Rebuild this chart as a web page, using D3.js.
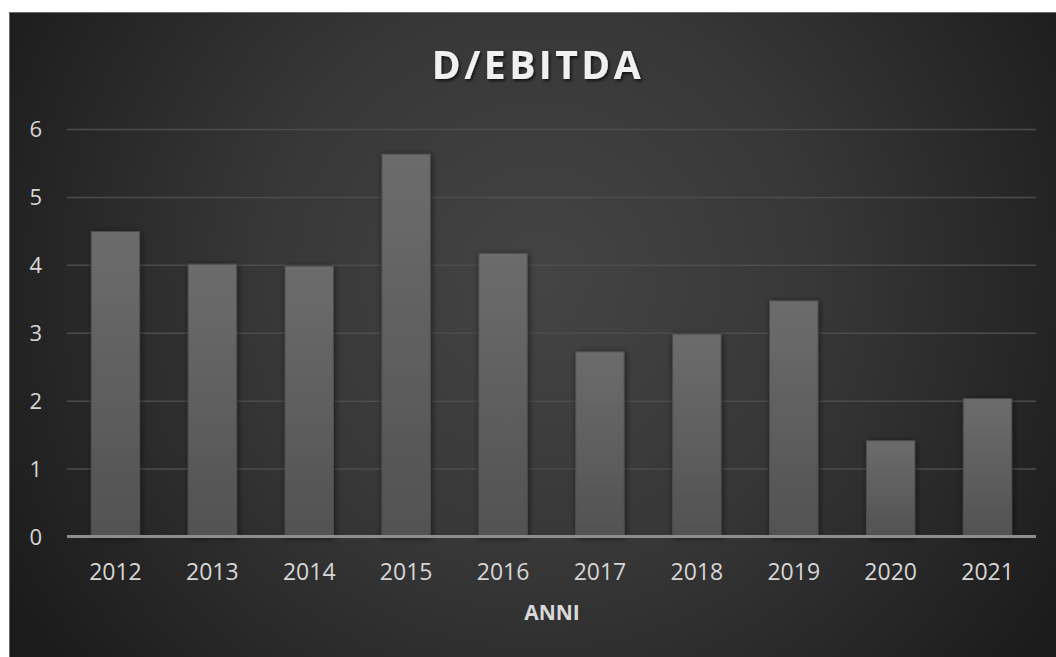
<!DOCTYPE html>
<html>
<head>
<meta charset="utf-8">
<script src="https://cdn.jsdelivr.net/npm/d3@7"></script>
<style>
  html, body { margin: 0; padding: 0; background: #ffffff; }
  svg { display: block; }
</style>
</head>
<body>
<div id="chart"></div>
<script>
// D/EBITDA ratio per year
const years = ["2012", "2013", "2014", "2015", "2016", "2017", "2018", "2019", "2020", "2021"];
const ratios = [4.49, 4.01, 3.98, 5.63, 4.17, 2.72, 2.98, 3.47, 1.41, 2.03];
const yTicks = [0, 1, 2, 3, 4, 5, 6];
const chartTitle = "D/EBITDA";
const xTitle = "ANNI";

const W = 1056, H = 657;
const frame = { x: 9, y: 12, w: W - 9, h: H - 12 };
const plot = { left: 67, right: 1036, top: 129, bottom: 536.5 };

const svg = d3.select("#chart").append("svg")
  .attr("width", W).attr("height", H);

const defs = svg.append("defs");

// Background: soft radial glow, dark toward the edges
const bg = defs.append("radialGradient").attr("id", "bgGrad")
  .attr("gradientUnits", "userSpaceOnUse")
  .attr("cx", 540).attr("cy", 280).attr("r", 620)
  .attr("fx", 540).attr("fy", 280);
bg.append("stop").attr("offset", "0%").attr("stop-color", "#444444");
bg.append("stop").attr("offset", "45%").attr("stop-color", "#373737");
bg.append("stop").attr("offset", "100%").attr("stop-color", "#1b1b1b");

// Bar fill: lighter at the top
const barGrad = defs.append("linearGradient").attr("id", "barGrad")
  .attr("x1", 0).attr("y1", 0).attr("x2", 0).attr("y2", 1);
barGrad.append("stop").attr("offset", "0%").attr("stop-color", "#6c6c6c");
barGrad.append("stop").attr("offset", "100%").attr("stop-color", "#525252");

const shadow = defs.append("filter").attr("id", "barShadow")
  .attr("x", "-30%").attr("y", "-10%").attr("width", "160%").attr("height", "120%");
shadow.append("feDropShadow").attr("dx", 1).attr("dy", 1)
  .attr("stdDeviation", 3).attr("flood-color", "#000").attr("flood-opacity", 0.55);

const textShadow = defs.append("filter").attr("id", "textShadow")
  .attr("x", "-10%").attr("y", "-30%").attr("width", "120%").attr("height", "160%");
textShadow.append("feDropShadow").attr("dx", 1.5).attr("dy", 2)
  .attr("stdDeviation", 1.5).attr("flood-color", "#000").attr("flood-opacity", 0.7);

// Chart area frame
svg.append("rect")
  .attr("x", frame.x).attr("y", frame.y)
  .attr("width", frame.w).attr("height", frame.h)
  .attr("fill", "url(#bgGrad)");
svg.append("line")
  .attr("x1", frame.x + 0.5).attr("x2", frame.x + 0.5)
  .attr("y1", frame.y).attr("y2", H)
  .attr("stroke", "#6a6a6a").attr("stroke-width", 1);
svg.append("line")
  .attr("x1", frame.x).attr("x2", W)
  .attr("y1", frame.y + 0.5).attr("y2", frame.y + 0.5)
  .attr("stroke", "#6a6a6a").attr("stroke-width", 1);

const x = d3.scaleBand()
  .domain(years)
  .range([plot.left, plot.right])
  .paddingInner(0.5)
  .paddingOuter(0.25);

const y = d3.scaleLinear()
  .domain([0, 6])
  .range([plot.bottom, plot.top]);

// Horizontal gridlines
const yAxis = d3.axisLeft(y)
  .tickValues(yTicks)
  .tickSize(-(plot.right - plot.left))
  .tickPadding(25)
  .tickFormat(d3.format("d"));

const gy = svg.append("g")
  .attr("transform", `translate(${plot.left},0)`)
  .call(yAxis);
gy.select(".domain").remove();
gy.selectAll(".tick line")
  .attr("stroke", "#4c4c4c")
  .attr("stroke-width", 1.5)
  .attr("opacity", d => d === 0 ? 0 : 1);
gy.selectAll(".tick text")
  .attr("fill", "#d6d6d6")
  .attr("font-family", "'Open Sans', sans-serif")
  .attr("font-size", 22)
  .attr("dy", "0.36em");

// Bars
svg.append("g").selectAll("rect")
  .data(years.map((yr, i) => ({ yr, v: ratios[i] })))
  .join("rect")
  .attr("x", d => x(d.yr))
  .attr("y", d => y(d.v))
  .attr("width", x.bandwidth())
  .attr("height", d => y(0) - y(d.v))
  .attr("fill", "url(#barGrad)")
  .attr("stroke", "#4e4e4e")
  .attr("stroke-width", 1)
  .attr("filter", "url(#barShadow)");

// Category axis
const xAxis = d3.axisBottom(x).tickSize(0).tickPadding(43);
const gx = svg.append("g")
  .attr("transform", `translate(0,${plot.bottom})`)
  .call(xAxis);
gx.select(".domain")
  .attr("stroke", "#8e8e8e")
  .attr("stroke-width", 3)
  .attr("d", `M${plot.left},0H${plot.right}`);
gx.selectAll(".tick text")
  .attr("fill", "#d6d6d6")
  .attr("font-family", "'Open Sans', sans-serif")
  .attr("font-size", 23)
  .attr("dy", "0");

// Titles
svg.append("text")
  .attr("x", 538).attr("y", 79)
  .attr("text-anchor", "middle")
  .attr("fill", "#f0f0f0")
  .attr("font-family", "'Open Sans', sans-serif")
  .attr("font-weight", "bold")
  .attr("font-size", 39)
  .attr("letter-spacing", 3.5)
  .attr("filter", "url(#textShadow)")
  .text(chartTitle);

svg.append("text")
  .attr("x", 552).attr("y", 620)
  .attr("text-anchor", "middle")
  .attr("fill", "#d9d9d9")
  .attr("font-family", "'Open Sans', sans-serif")
  .attr("font-weight", "bold")
  .attr("font-size", 21)
  .text(xTitle);
</script>
</body>
</html>
